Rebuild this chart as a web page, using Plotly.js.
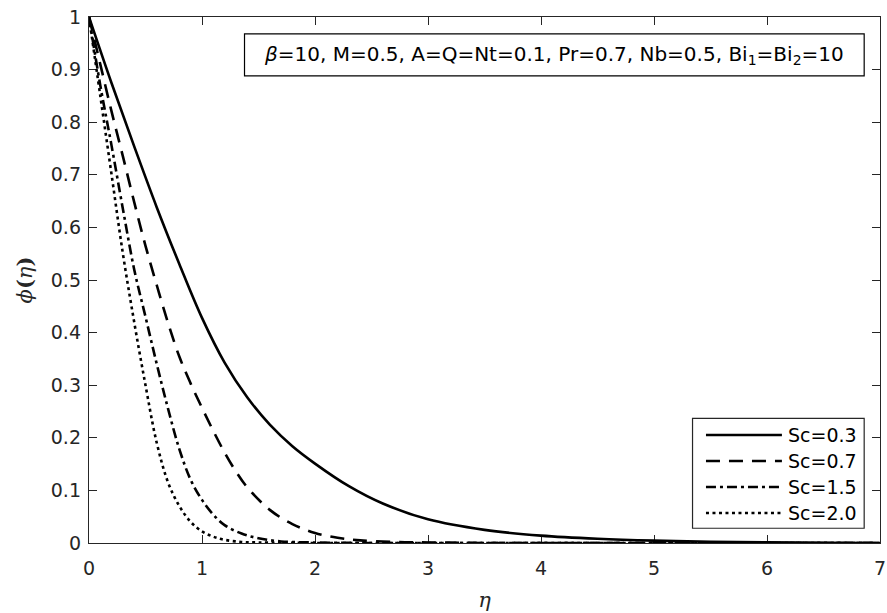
<!DOCTYPE html>
<html>
<head>
<meta charset="utf-8">
<script src="https://cdn.plot.ly/plotly-3.0.1.min.js"></script>
<style>
  html, body { margin: 0; padding: 0; background: #ffffff; }
  #chart { width: 887px; height: 613px; }
</style>
</head>
<body>
<div id="chart"></div>
<script>
// ---- data ----
const seriesNames = ["Sc=0.3", "Sc=0.7", "Sc=1.5", "Sc=2.0"];

const eta03 = [0, 0.2, 0.4, 0.6, 0.8, 1.0, 1.2, 1.4, 1.6, 1.8, 2.0, 2.3, 2.6, 3.0, 3.5, 4.0, 4.5, 5.0, 5.5, 6.0, 6.5, 7.0];
const phi03 = [1, 0.874, 0.754, 0.638, 0.53, 0.428, 0.343, 0.277, 0.225, 0.184, 0.151, 0.108, 0.075, 0.045, 0.025, 0.014, 0.008, 0.0045, 0.0025, 0.0013, 0.0006, 0];

const eta07 = [0, 0.1, 0.2, 0.3, 0.4, 0.5, 0.6, 0.7, 0.8, 0.9, 1.0, 1.1, 1.2, 1.3, 1.4, 1.6, 1.8, 2.0, 2.2, 2.4, 2.7, 3.0, 3.5, 4.0, 5.0, 6.0, 7.0];
const phi07 = [1, 0.91, 0.82, 0.735, 0.648, 0.565, 0.49, 0.418, 0.354, 0.303, 0.257, 0.213, 0.172, 0.136, 0.106, 0.063, 0.036, 0.019, 0.01, 0.005, 0.002, 0.001, 0, 0, 0, 0, 0];

const eta15 = [0, 0.1, 0.2, 0.3, 0.4, 0.5, 0.6, 0.7, 0.8, 0.9, 1.0, 1.1, 1.2, 1.35, 1.5, 1.7, 2.0, 2.5, 3.0, 4.0, 5.0, 6.0, 7.0];
const phi15 = [1, 0.87, 0.755, 0.635, 0.52, 0.43, 0.34, 0.255, 0.178, 0.12, 0.082, 0.054, 0.034, 0.018, 0.009, 0.003, 0.001, 0, 0, 0, 0, 0, 0];

const eta20 = [0, 0.1, 0.2, 0.3, 0.4, 0.5, 0.6, 0.7, 0.8, 0.9, 1.0, 1.1, 1.2, 1.35, 1.5, 2.0, 3.0, 4.0, 5.0, 6.0, 7.0];
const phi20 = [1, 0.85, 0.70, 0.55, 0.42, 0.30, 0.19, 0.115, 0.07, 0.04, 0.022, 0.012, 0.006, 0.002, 0.001, 0, 0, 0, 0, 0, 0];

const xTicks = [0, 1, 2, 3, 4, 5, 6, 7];
const yTicks = [0, 0.1, 0.2, 0.3, 0.4, 0.5, 0.6, 0.7, 0.8, 0.9, 1];
const yTickText = ["0", "0.1", "0.2", "0.3", "0.4", "0.5", "0.6", "0.7", "0.8", "0.9", "1"];
const paramText = "<i>β</i>=10, M=0.5, A=Q=Nt=0.1, Pr=0.7, Nb=0.5, Bi<sub>1</sub>=Bi<sub>2</sub>=10";

// ---- styles ----
const dashes = ["solid", "14px,9px", "10px,4px,3px,4px", "3px,3.5px"];
const xs = [eta03, eta07, eta15, eta20];
const ys = [phi03, phi07, phi15, phi20];
const LW = 2.6;
const SANS = "DejaVu Sans, Liberation Sans, Arial, sans-serif";
const tickFont = { family: SANS, size: 19, color: "#262626" };

const traces = seriesNames.map((n, i) => ({
  x: xs[i], y: ys[i], name: n, type: "scatter", mode: "lines",
  line: { color: "#000000", width: LW, dash: dashes[i], shape: "spline", smoothing: 1 },
  cliponaxis: false,
  showlegend: false, hoverinfo: "skip"
}));

// custom legend (line samples + labels) in paper coordinates
const legRowY = [0.2053, 0.1559, 0.1065, 0.0570];
const shapes = [
  { type: "rect", xref: "paper", yref: "paper", x0: 0.1966, x1: 0.980, y0: 0.888, y1: 0.968,
    line: { color: "#000000", width: 1.2 }, fillcolor: "#ffffff" },
  { type: "rect", xref: "paper", yref: "paper", x0: 0.763, x1: 0.980, y0: 0.028, y1: 0.237,
    line: { color: "#262626", width: 1.2 }, fillcolor: "#ffffff" }
];
const annotations = [
  { xref: "paper", yref: "paper", x: 0.588, y: 0.928, xanchor: "center", yanchor: "middle",
    text: paramText, showarrow: false,
    font: { family: SANS, size: 20, color: "#000000" } }
];
seriesNames.forEach((n, i) => {
  shapes.push({ type: "line", xref: "paper", yref: "paper", x0: 0.780, x1: 0.876, y0: legRowY[i], y1: legRowY[i],
    line: { color: "#000000", width: LW, dash: dashes[i] } });
  annotations.push({ xref: "paper", yref: "paper", x: 0.881, y: legRowY[i], xanchor: "left", yanchor: "middle",
    text: n, showarrow: false,
    font: { family: SANS, size: 19, color: "#000000" } });
});

const axisCommon = {
  showgrid: false, zeroline: false, showline: true, linecolor: "#262626", linewidth: 1.2,
  mirror: "ticks", ticks: "inside", ticklen: 8, tickwidth: 1, tickcolor: "#262626",
  tickfont: tickFont, layer: "below traces"
};

const layout = {
  width: 887, height: 613,
  margin: { l: 89, r: 7, t: 17, b: 70 },
  paper_bgcolor: "#ffffff", plot_bgcolor: "#ffffff",
  showlegend: false,
  xaxis: Object.assign({}, axisCommon, {
    range: [0, 7], tickmode: "array", tickvals: xTicks, ticktext: xTicks.map(String),
    ticklabelstandoff: 8,
    title: { text: "<i>η</i>", font: { family: "DejaVu Serif, Liberation Serif, serif", size: 21, color: "#262626" }, standoff: 14 }
  }),
  yaxis: Object.assign({}, axisCommon, {
    range: [0, 1], tickmode: "array", tickvals: yTicks, ticktext: yTickText,
    ticklabelstandoff: 3,
    title: { text: "<i>ϕ</i><b>(</b><i>η</i><b>)</b>", font: { family: "DejaVu Serif, Liberation Serif, serif", size: 21, color: "#262626" }, standoff: 12 }
  }),
  shapes: shapes,
  annotations: annotations
};

Plotly.newPlot("chart", traces, layout, { displayModeBar: false, staticPlot: true });
</script>
</body>
</html>
